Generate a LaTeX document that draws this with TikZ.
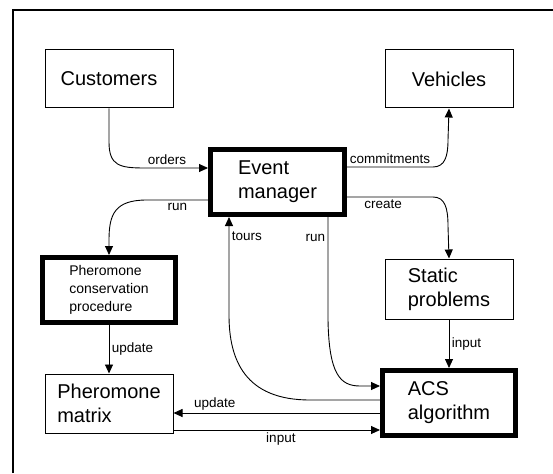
\documentclass[tikz,border=0pt]{standalone}
\usepackage{fontspec}
\setsansfont{Liberation Sans}
\usetikzlibrary{arrows.meta,positioning,calc}

\begin{document}
\begin{tikzpicture}[
  x=1pt, y=-1pt,
  font=\sffamily,
  plain/.style={draw,line width=1pt,inner sep=0pt,align=left,
    font=\sffamily\fontsize{20}{24}\selectfont},
  heavy/.style={plain,line width=5pt},
  flow/.style={-{Triangle[length=9pt,width=8pt]},line width=0.9pt,rounded corners=0pt},
  line/.style={line width=0.9pt},
  lbl/.style={font=\sffamily\fontsize{13.5}{16}\selectfont,inner sep=2.5pt}]

  \useasboundingbox (0,0) rectangle (553,473);
  % frame
  \draw[line width=2pt] (13,473) -- (13,10) -- (553,10);

  % boxes
  \node[plain,minimum width=128pt,minimum height=58pt] (cust) at (109,79) {Customers};
  \node[plain,minimum width=128pt,minimum height=58pt] (veh) at (449,79) {Vehicles};
  \node[heavy,minimum width=134pt,minimum height=65pt] (em) at (277.5,182) {Event\\manager};
  \node[heavy,minimum width=133pt,minimum height=65pt,
    font=\sffamily\fontsize{14}{18}\selectfont] (pcp) at (109,290)
    {Pheromone\\conservation\\procedure};
  \node[plain,minimum width=128pt,minimum height=60pt] (stat) at (449,289) {Static\\problems};
  \node[plain,minimum width=128pt,minimum height=59pt] (pm) at (109,403.5) {Pheromone\\matrix};
  \node[heavy,minimum width=133pt,minimum height=65pt] (acs) at (449,403) {ACS\\algorithm};

  % event manager in/out
  \draw[flow] (cust.south) -- (109,142) .. controls (109,166) and (120,168) .. (145,168)
      -- node[lbl,above,pos=0.35] {orders} ([yshift=14pt]em.west);
  \draw[flow] ([yshift=15pt]em.east) -- node[lbl,above] {commitments} (433,167)
      .. controls (445,167) and (448,156) .. (448,140) -- (veh.south);
  \draw[flow] ([yshift=-15pt]em.east) -- node[lbl,below,pos=0.42] {create} (433,197)
      .. controls (445,197) and (448,208) .. (448,226) -- (stat.north);
  \draw[flow] ([yshift=-18pt]em.west) -- node[lbl,below] {run} (147,200)
      .. controls (115,200) and (109,214) .. (109,240) -- (pcp.north);

  % straight links
  \draw[flow] (pcp.south) -- node[lbl,right] {update} (pm.north);
  \draw[flow] (stat.south) -- node[lbl,right] {input} (acs.north);

  % acs links
  \draw[flow] ([xshift=50.5pt]em.south) -- node[lbl,left,pos=0.2] {run} (328,320)
      .. controls (329,374) and (340,386) .. (360,386) -- ([yshift=17pt]acs.west);
  \draw[flow] ([yshift=3pt]acs.west) -- (310,400)
      .. controls (245,400) and (229,360) .. (229,315)
      -- node[lbl,right,pos=0.8] {tours} ([xshift=-48.5pt]em.south);
  \draw[flow] ([yshift=-10pt]acs.west) -- node[lbl,above,pos=0.8] {update} ([yshift=-9.5pt]pm.east);
  \draw[flow] ([yshift=-26.5pt]pm.east) -- node[lbl,below,pos=0.52] {input} ([yshift=-27pt]acs.west);

\end{tikzpicture}
\end{document}
